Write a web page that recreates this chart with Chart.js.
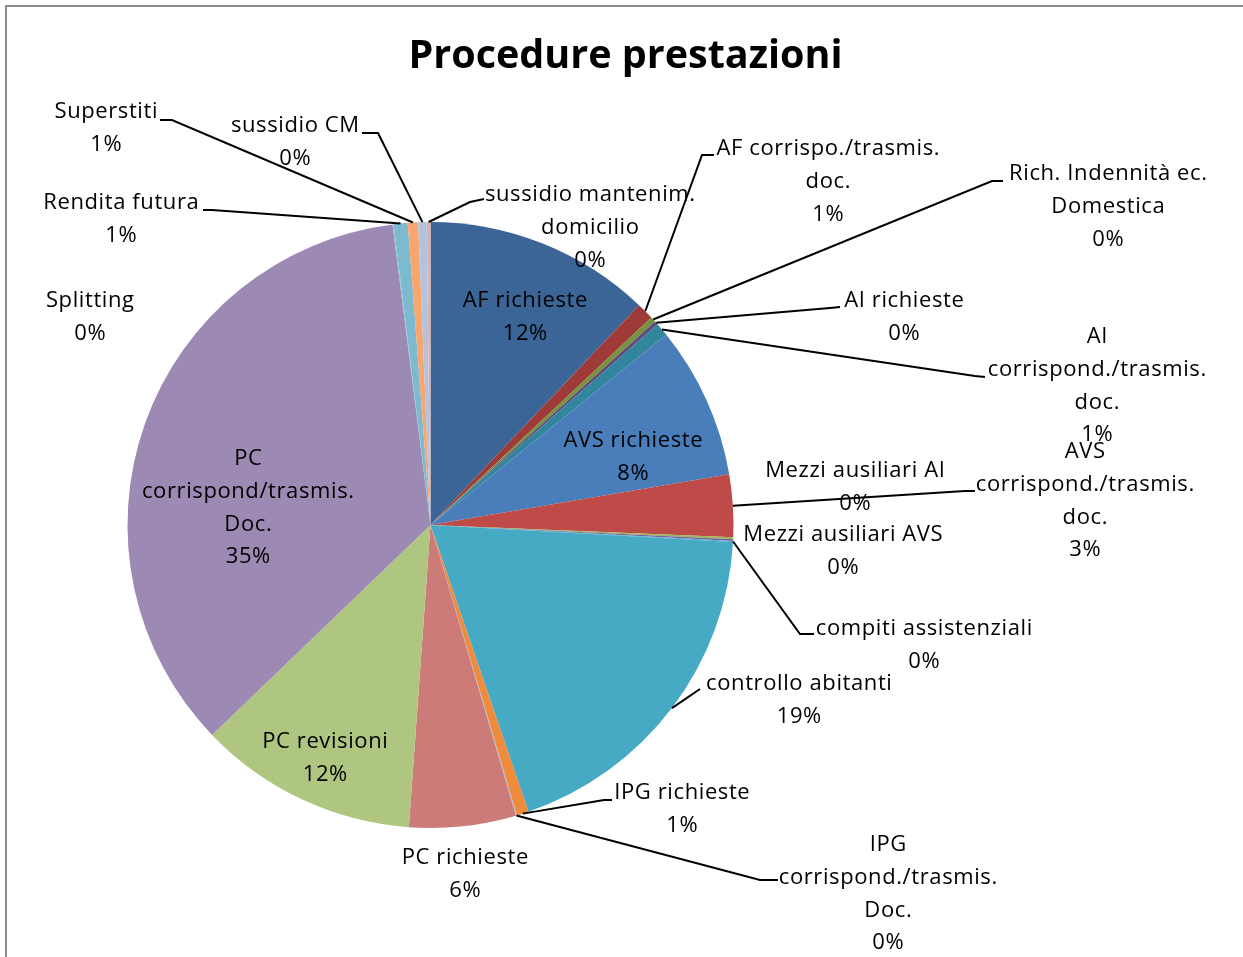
<!DOCTYPE html>
<html>
<head>
<meta charset="utf-8">
<script src="https://cdn.jsdelivr.net/npm/chart.js@4/dist/chart.umd.min.js"></script>
<style>
  html, body { margin: 0; padding: 0; background: #fff; overflow: hidden; }
  #wrap { position: absolute; left: 0; top: 0; width: 1243px; height: 957px; }
</style>
</head>
<body>
<div id="wrap"><canvas id="myChart" width="1243" height="957"></canvas></div>
<script>
// data (share of procedures, approx. percent)
var labels = [
    "AF richieste",
    "AF corrispo./trasmis. doc.",
    "Rich. Indennità ec. Domestica",
    "AI richieste",
    "AI corrispond./trasmis. doc.",
    "AVS richieste",
    "AVS corrispond./trasmis. doc.",
    "Mezzi ausiliari AI",
    "Mezzi ausiliari AVS",
    "compiti assistenziali",
    "controllo abitanti",
    "IPG richieste",
    "IPG corrispond./trasmis. Doc.",
    "PC richieste",
    "PC revisioni",
    "PC corrispond/trasmis. Doc.",
    "Splitting",
    "Rendita futura",
    "Superstiti",
    "sussidio CM",
    "sussidio mantenim. domicilio"
];
var values = [12.1, 0.92, 0.28, 0.2, 0.72, 8.14, 3.33, 0.1, 0.1, 0.05, 18.9, 0.64, 0.05, 5.7, 11.7, 35.25, 0.05, 0.75, 0.55, 0.45, 0.2];

var colors = [
    "#3B6596", "#9E3A38", "#77933C", "#604A7B", "#31859C", "#4A7EBB", "#BE4B48",
    "#98B954", "#7D60A0", "#46AAC5", "#46AAC5", "#EE8B3C", "#A5B9DC", "#CD7B79",
    "#AEC67F", "#9C8AB4", "#7FC0D4", "#7DBAD0", "#F7A66E", "#B5C2DE", "#DDB3B1"
];

// how each label is broken into lines, where it sits, and its leader stub
var labelLines = [
    ["AF richieste"],
    ["AF corrispo./trasmis.", "doc."],
    ["Rich. Indennità ec.", "Domestica"],
    ["AI richieste"],
    ["AI", "corrispond./trasmis.", "doc."],
    ["AVS richieste"],
    ["AVS", "corrispond./trasmis.", "doc."],
    ["Mezzi ausiliari AI"],
    ["Mezzi ausiliari AVS"],
    ["compiti assistenziali"],
    ["controllo abitanti"],
    ["IPG richieste"],
    ["IPG", "corrispond./trasmis.", "Doc."],
    ["PC richieste"],
    ["PC revisioni"],
    ["PC", "corrispond/trasmis.", "Doc."],
    ["Splitting"],
    ["Rendita futura"],
    ["Superstiti"],
    ["sussidio CM"],
    ["sussidio mantenim.", "domicilio"]
];
var labelPos = [
    [525, 301], [828, 149], [1108, 174], [904, 301], [1097, 337], [633, 441], [1085, 452],
    [855, 471], [843, 535], [924, 629], [799, 684], [682, 793], [888, 845], [465, 858],
    [325, 742], [248, 459], [90, 301], [121, 203], [106, 112], [295, 126], [590, 195]
];
var leaders = [
    null, [[714, 155], [702, 155]], [[1003, 181], [992, 181]], [[840, 307], [830, 308]],
    [[985, 377], [975, 376]], null, [[975, 491], [965, 491]], null, null,
    [[814, 634], [800, 634]], [[700, 689]], [[612, 800], [604, 800]], [[778, 880], [760, 880]],
    null, null, null, null, [[203, 210], [212, 210]], [[160, 120], [172, 120]],
    [[362, 133], [378, 133]], [[484, 199], [470, 202]]
];

var labelPlugin = {
    id: "excelLabels",
    beforeDraw: function (chart) {
        var c = chart.ctx;
        c.save();
        c.strokeStyle = "#8c8c8c";
        c.lineWidth = 2;
        c.beginPath();
        c.moveTo(6, 960);
        c.lineTo(6, 6);
        c.lineTo(1250, 6);
        c.stroke();
        c.restore();
    },
    afterDraw: function (chart) {
        var c = chart.ctx;
        var meta = chart.getDatasetMeta(0);
        var data = chart.data.datasets[0].data;
        var total = 0;
        data.forEach(function (v) { total += v; });

        c.save();
        // title
        c.fillStyle = "#000";
        c.font = "bold 39.5px 'Open Sans'";
        c.textAlign = "center";
        c.textBaseline = "middle";
        c.fillText("Procedure prestazioni", 625.5, 57);

        // leader lines
        c.strokeStyle = "#000";
        c.lineWidth = 2;
        meta.data.forEach(function (arc, i) {
            if (!leaders[i]) return;
            var mid = (arc.startAngle + arc.endAngle) / 2;
            var px = arc.x + Math.cos(mid) * arc.outerRadius;
            var py = arc.y + Math.sin(mid) * arc.outerRadius;
            c.beginPath();
            c.moveTo(leaders[i][0][0], leaders[i][0][1]);
            for (var k = 1; k < leaders[i].length; k++) c.lineTo(leaders[i][k][0], leaders[i][k][1]);
            c.lineTo(px, py);
            c.stroke();
        });

        // label text
        c.font = "22px 'Open Sans'";
        c.letterSpacing = "0.6px";
        c.fillStyle = "#000";
        meta.data.forEach(function (arc, i) {
            var lines = labelLines[i].concat([Math.round(data[i] / total * 100) + "%"]);
            lines.forEach(function (t, k) {
                c.fillText(t, labelPos[i][0] + 0.3, labelPos[i][1] + k * 32.7);
            });
        });
        c.restore();
    }
};

window.onload = function () {
    var ctx = document.getElementById("myChart").getContext("2d");
    var data = {
        labels: labels,
        datasets: [
            {
                data: values,
                backgroundColor: colors,
                borderWidth: 0
            }
        ]
    };

    var myPie = new Chart(ctx, {
        type: "pie",
        data: data,
        options: {
            responsive: false,
            animation: false,
            layout: { padding: { left: 127.5, right: 509.5, top: 222, bottom: 129 } },
            plugins: {
                legend: { display: false },
                tooltip: { enabled: false }
            }
        },
        plugins: [labelPlugin]
    });
};
</script>
</body>
</html>
